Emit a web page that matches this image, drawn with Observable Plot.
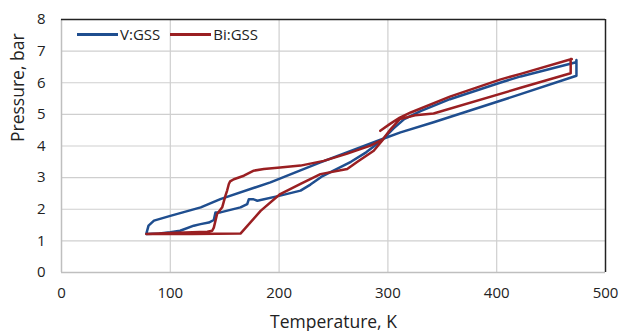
<!DOCTYPE html>
<html>
<head>
<meta charset="utf-8">
<script src="https://cdn.jsdelivr.net/npm/d3@7"></script>
<script src="https://cdn.jsdelivr.net/npm/@observablehq/plot@0.6"></script>
<style>
  html, body { margin: 0; padding: 0; background: #fff; }
  #wrap { position: relative; width: 622px; height: 331px; overflow: hidden; font-family: "Open Sans", sans-serif; }
  #legend { position: absolute; left: 77px; top: 24px; display: flex; align-items: center; font-size: 15px; color: #222; white-space: nowrap; }
  #legend .sw { display: inline-block; width: 41px; height: 3px; margin-right: 2px; }
  #legend .item { display: flex; align-items: center; margin-right: 10px; }
</style>
</head>
<body>
<div id="wrap"><div id="legend"></div></div>
<script>
const xTicks = [0, 100, 200, 300, 400, 500];
const yTicks = [0, 1, 2, 3, 4, 5, 6, 7, 8];
const xTitle = "Temperature, K";
const yTitle = "Pressure, bar";
const seriesNames = ["V:GSS", "Bi:GSS"];
const seriesColors = ["#1f4e8f", "#9a1f22"];

// V:GSS loop (temperature K, pressure bar), in drawing order
const vT = [78, 90, 100, 109, 121.6, 127.8, 135.4, 140, 141.5, 146, 164.5, 170.7, 172.2, 176, 180, 201, 219.7, 228.8, 240, 250, 266, 280, 290, 295, 305, 315, 330, 357, 403, 422, 473, 473.3, 473.3, 422, 342, 311.6, 295, 238, 192, 146, 128, 100, 85, 80, 78];
const vP = [1.22, 1.23, 1.27, 1.32, 1.48, 1.53, 1.58, 1.66, 1.90, 1.90, 2.06, 2.16, 2.32, 2.32, 2.27, 2.43, 2.59, 2.78, 3.05, 3.22, 3.50, 3.80, 4.06, 4.20, 4.55, 4.85, 5.10, 5.48, 6.00, 6.20, 6.65, 6.72, 6.22, 5.64, 4.75, 4.43, 4.22, 3.48, 2.85, 2.32, 2.06, 1.79, 1.64, 1.48, 1.23];

// Bi:GSS loop
const biT = [293, 302, 311, 321, 357, 403, 422, 469, 468, 468, 422, 342, 325, 311, 303, 295, 284, 262, 241, 219.7, 201, 186, 176.7, 167.6, 158.4, 155, 153.8, 152.3, 150.7, 147.7, 143, 140, 138.5, 134, 100, 78, 120, 164.5, 183, 201, 219.7, 238, 262.6, 272, 287, 296];
const biP = [4.48, 4.70, 4.90, 5.06, 5.56, 6.10, 6.28, 6.75, 6.75, 6.30, 5.84, 5.03, 4.97, 4.85, 4.55, 4.20, 4.01, 3.75, 3.53, 3.38, 3.32, 3.27, 3.22, 3.06, 2.95, 2.88, 2.80, 2.60, 2.43, 2.06, 1.85, 1.42, 1.32, 1.29, 1.25, 1.22, 1.22, 1.23, 1.95, 2.48, 2.80, 3.11, 3.27, 3.50, 3.85, 4.22];

const rows = [];
vT.forEach((t, i) => rows.push({series: seriesNames[0], T: t, P: vP[i]}));
biT.forEach((t, i) => rows.push({series: seriesNames[1], T: t, P: biP[i]}));

const plot = Plot.plot({
  width: 622,
  height: 331,
  marginLeft: 61,
  marginRight: 17,
  marginTop: 19,
  marginBottom: 59,
  style: {fontFamily: "'Open Sans', sans-serif", fontSize: "15px", color: "#222", background: "#fff", overflow: "visible"},
  x: {domain: [0, 500], ticks: xTicks, tickSize: 0, tickPadding: 15, label: null},
  y: {domain: [0, 8], ticks: yTicks, tickSize: 0, tickPadding: 16, label: null},
  color: {domain: seriesNames, range: seriesColors},
  marks: [
    Plot.gridX(xTicks.slice(1, -1), {stroke: "#cfcfcf", strokeOpacity: 1, strokeWidth: 1.2}),
    Plot.gridY(yTicks.slice(1, -1), {stroke: "#cfcfcf", strokeOpacity: 1, strokeWidth: 1.2}),
    Plot.ruleX([xTicks[0]], {stroke: "#bfbfbf", strokeWidth: 1.5}),
    Plot.ruleY([yTicks[0]], {stroke: "#bfbfbf", strokeWidth: 1.5}),
    Plot.ruleY([yTicks[yTicks.length - 1]], {stroke: "#222", strokeWidth: 1.5}),
    Plot.ruleX([xTicks[xTicks.length - 1]], {stroke: "#222", strokeWidth: 1.5}),
    Plot.line(rows, {x: "T", y: "P", z: "series", stroke: "series", strokeWidth: 2.5, curve: "linear", strokeLinejoin: "round"}),
    Plot.text([xTitle], {frameAnchor: "bottom", dy: 55, text: d => d, fontSize: 17.5, fill: "#222"}),
    Plot.text([yTitle], {frameAnchor: "left", dx: -43, dy: -4, rotate: -90, text: d => d, fontSize: 17.5, fill: "#222"})
  ]
});
document.getElementById("wrap").prepend(plot);

const legend = document.getElementById("legend");
seriesNames.forEach((name, i) => {
  const item = document.createElement("span");
  item.className = "item";
  const sw = document.createElement("span");
  sw.className = "sw";
  sw.style.background = seriesColors[i];
  const lab = document.createElement("span");
  lab.textContent = name;
  item.appendChild(sw);
  item.appendChild(lab);
  legend.appendChild(item);
});
</script>
</body>
</html>
